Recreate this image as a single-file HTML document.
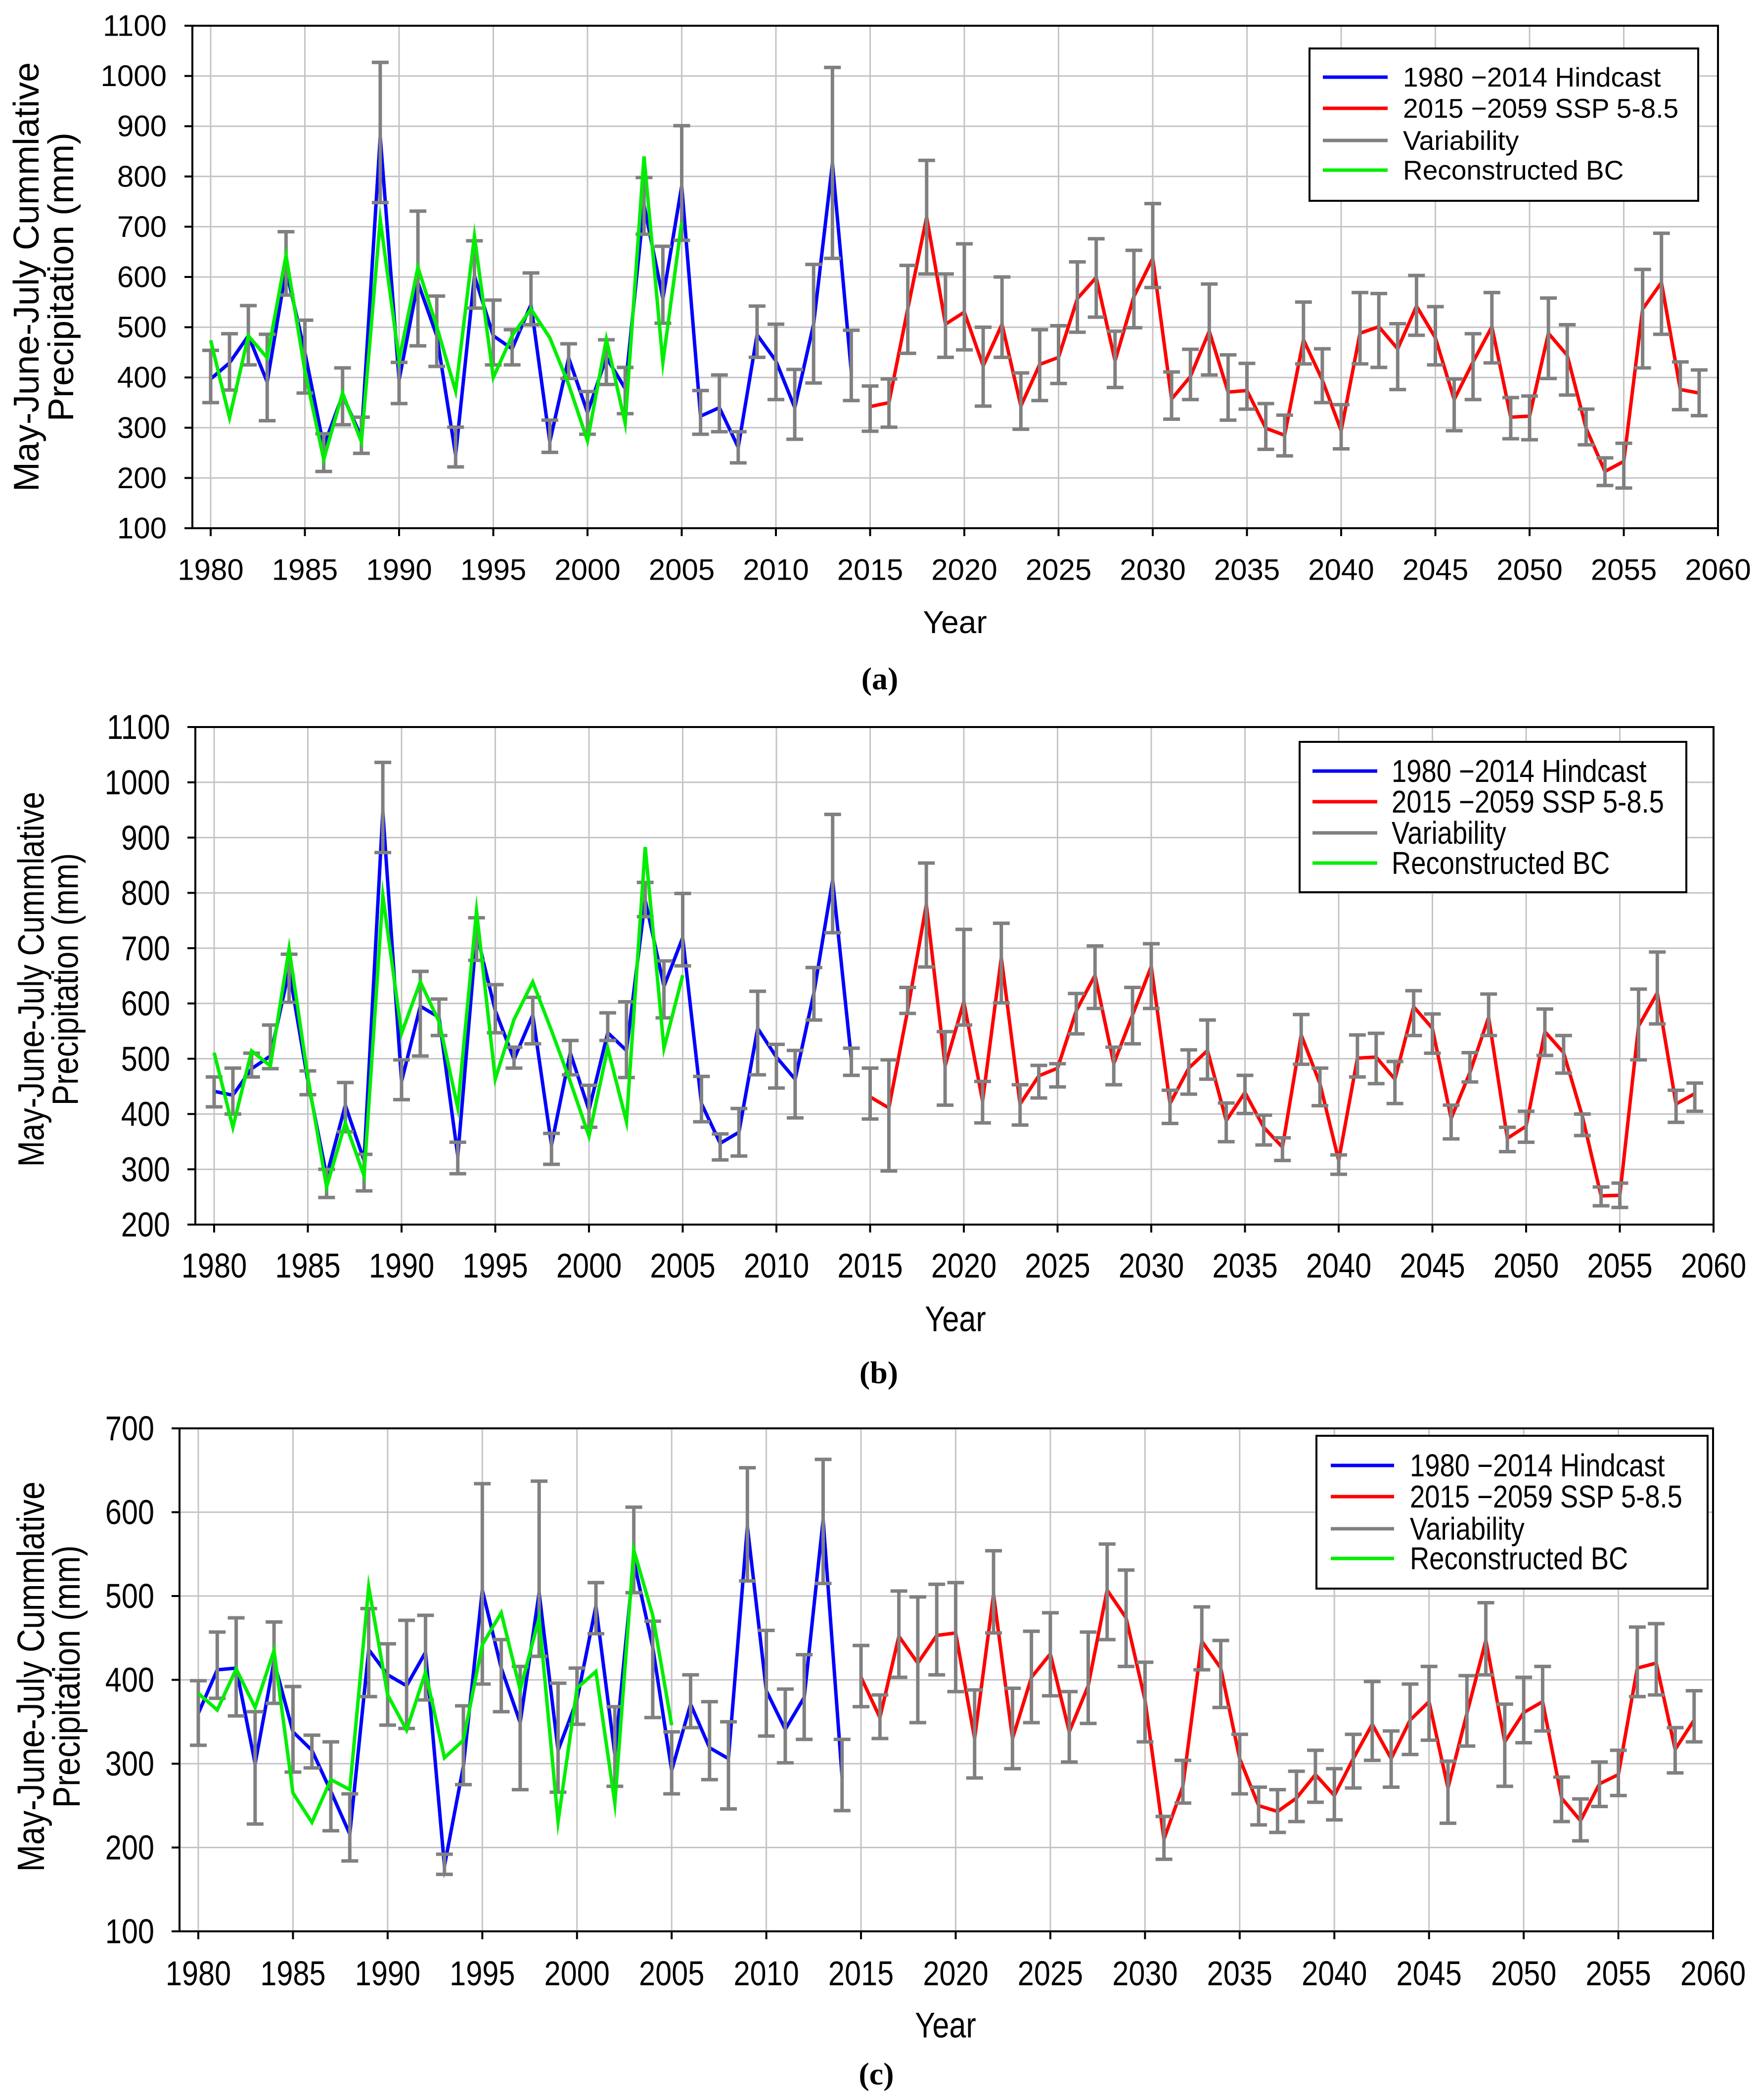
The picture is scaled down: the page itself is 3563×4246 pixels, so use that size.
<!DOCTYPE html>
<html><head><meta charset="utf-8"><style>
html,body{margin:0;padding:0;background:#fff;}
svg{display:block;}
</style></head><body>
<svg id="chart" xmlns="http://www.w3.org/2000/svg" width="3563" height="4246" viewBox="0 0 3563 4246">
<rect x="0" y="0" width="3563" height="4246" fill="#fff"/>
</svg>
<script>
// ---------- Panel (a) data ----------
const aHind = [397,429,483,391,615,450,263,365,281,879,395,589,483,246,602,483,457,545,272,439,330,440,378,743,557,781,323,340,261,485,433,340,506,826,412];
const aBC = [474,320,483,439,643,413,237,369,272,714,435,619,501,373,681,400,483,536,479,386,274,476,309,840,430,709];
const aSSP = [342,350,537,719,506,530,423,506,343,426,440,557,599,433,561,637,357,402,492,371,374,299,285,475,395,294,488,501,457,542,479,356,431,501,321,323,488,444,299,213,233,536,589,376,369];
const aErrHi = [454,487,543,486,690,514,288,419,321,1027,430,731,562,301,672,554,495,608,315,467,372,475,420,798,661,901,374,405,292,542,506,416,625,1017,494,
383,397,623,832,606,666,500,600,409,495,503,630,676,492,653,746,411,456,586,445,428,348,325,550,457,346,569,567,507,603,541,397,487,569,360,363,558,505,337,240,269,615,687,431,415];
const aErrLo = [350,375,425,314,564,369,213,306,249,748,348,463,422,222,538,425,425,505,251,398,287,386,328,685,508,673,287,292,230,440,356,277,389,637,354,
293,301,448,606,440,455,343,440,297,354,388,490,520,380,499,579,317,356,405,315,337,257,244,427,350,258,427,420,376,484,425,294,356,429,278,276,398,365,266,185,180,419,486,336,324];

// ---------- Panel (b) data ----------
const bHind = [441,434,482,505,660,460,288,416,316,947,459,595,575,324,727,587,499,579,344,511,407,547,515,787,631,719,419,347,367,555,503,463,619,823,499];
const bBC = [511,376,514,487,699,467,268,384,288,795,546,639,567,411,767,463,571,639,551,459,360,519,386,883,519,651];
const bSSP = [431,411,587,779,487,603,423,683,418,469,483,587,651,491,579,667,419,483,515,388,439,376,340,543,455,316,501,503,463,594,555,392,475,575,356,378,549,511,396,252,253,559,619,418,437];
const bErrHi = [467,483,510,561,689,478,300,457,327,1036,498,658,608,349,755,634,521,611,365,533,452,583,603,819,677,799,468,364,410,622,526,515,665,942,519,
483,498,629,854,549,734,459,745,453,488,491,618,704,521,629,708,443,516,570,420,470,398,357,580,483,326,543,546,495,623,581,416,511,617,376,405,590,542,400,268,275,626,693,443,456];
const bErrLo = [413,400,467,482,602,435,249,368,261,873,426,505,542,292,678,547,483,527,309,471,376,533,466,757,574,668,386,317,324,471,447,393,570,728,470,
391,297,582,666,416,561,384,601,380,429,449,545,591,453,527,591,383,436,463,350,401,344,316,490,415,291,467,455,419,542,510,355,458,542,332,349,506,474,361,234,231,498,563,385,405];

// ---------- Panel (c) data ----------
const cHind = [360,412,414,300,422,338,316,267,216,436,406,393,433,178,297,507,414,349,504,316,376,488,311,542,439,292,371,319,306,583,387,341,379,591,284];
const cBC = [384,364,413,367,435,265,230,281,269,511,382,340,409,307,328,442,480,388,474,231,390,410,253,555,477,346];
const cSSP = [403,355,452,420,453,456,330,502,330,403,431,338,393,507,474,376,210,273,446,414,306,250,243,259,287,262,306,347,306,352,374,271,360,447,326,361,374,259,232,276,287,414,420,317,352];
const cErrHi = [399,457,474,362,469,392,334,326,264,485,443,471,477,192,369,634,448,416,637,396,414,516,368,606,470,338,406,374,350,653,459,389,430,663,329,
441,382,506,499,514,516,388,554,390,458,480,386,457,562,531,421,237,304,487,447,335,272,269,291,316,294,335,398,339,395,416,303,405,492,371,403,416,284,258,302,316,463,467,343,387];
const cErrLo = [322,378,357,228,372,290,295,220,184,380,346,342,376,168,275,395,362,269,428,266,347,455,273,504,355,264,343,281,246,518,333,301,329,515,244,
368,330,403,349,406,386,283,456,294,349,381,302,348,448,416,326,186,253,412,367,264,227,218,231,254,233,271,304,272,311,328,229,321,406,273,325,339,231,208,249,262,380,382,289,326];

const SVGNS = "http://www.w3.org/2000/svg";
const svg = document.getElementById('chart');
function mk(tag, attrs, parent){
  const e = document.createElementNS(SVGNS, tag);
  for (const k in attrs) e.setAttribute(k, attrs[k]);
  (parent||svg).appendChild(e);
  return e;
}

function drawPanel(cfg, hind, bc, ssp, errHi, errLo){
  const g = mk('g', {});
  
  
  const X = yr => cfg.x1980 + (yr - 1980) * (cfg.x2060 - cfg.x1980) / 80;
  const Y = v => cfg.bottom - (v - cfg.ymin) * (cfg.bottom - cfg.top) / (cfg.ymax - cfg.ymin);
  const font = '"Liberation Sans", Arial, sans-serif';
  const sx = cfg.sx;
  function txt(parent, x, y, str, size, anchor, rot){
    const tr = rot ? `translate(${x},${y}) rotate(-90) scale(${sx},1)` : `translate(${x},${y}) scale(${sx},1)`;
    const t = mk('text', {transform:tr, x:0, y:0, 'text-anchor':anchor, 'dominant-baseline':'central', 'font-family':font, 'font-size':size}, parent);
    t.textContent = str;
    return t;
  }

  for (let v = cfg.ymin + cfg.ystep; v < cfg.ymax; v += cfg.ystep){
    const l = mk('line', {x1:cfg.left, x2:cfg.right, y1:Y(v), y2:Y(v), stroke:'#c4c4c4', 'stroke-width':3}, g);
    
    
  }
  for (let yr = 1980; yr < 2060; yr += 5){
    const l = mk('line', {x1:X(yr), x2:X(yr), y1:cfg.top, y2:cfg.bottom, stroke:'#c4c4c4', 'stroke-width':3}, g);
    
    
  }
  const fr = mk('rect', {x:cfg.left, y:cfg.top, width:cfg.right-cfg.left, height:cfg.bottom-cfg.top, fill:'none', stroke:'#000', 'stroke-width':4}, g);
  
  
  for (let v = cfg.ymin; v <= cfg.ymax; v += cfg.ystep){
    mk('line', {x1:cfg.left-16, x2:cfg.left, y1:Y(v), y2:Y(v), stroke:'#000', 'stroke-width':4}, g);
    const t = txt(g, cfg.ylabX, Y(v), v, cfg.fs, 'end', false);
    
    
  }
  for (let yr = 1980; yr <= 2060; yr += 5){
    mk('line', {x1:X(yr), x2:X(yr), y1:cfg.bottom, y2:cfg.bottom+16, stroke:'#000', 'stroke-width':4}, g);
    const t = txt(g, X(yr), cfg.xlabY, yr, cfg.fs, 'middle', false);
    
    
  }
  const yt = txt(g, cfg.ytX1, cfg.ytY, 'May-June-July Cummlative', cfg.ytfs, 'middle', true);
  
  
  const yt2 = txt(g, cfg.ytX2, cfg.ytY, 'Precipitation (mm)', cfg.ytfs, 'middle', true);
  
  
  const xt = txt(g, cfg.xtX, cfg.xtY, 'Year', cfg.tfs, 'middle', false);
  
  
  const pl = mk('text', {x:cfg.plX, y:cfg.plY, 'text-anchor':'middle', 'dominant-baseline':'central', 'font-family':'"Liberation Serif", serif', 'font-size':64, 'font-weight':'bold'}, g);
  pl.textContent = '(' + cfg.id + ')';
  
  

  function line(vals, startYr, color, name){
    const pts = vals.map((v,i) => X(startYr+i).toFixed(1) + ',' + Y(v).toFixed(1)).join(' ');
    const p = mk('polyline', {points:pts, fill:'none', stroke:color, 'stroke-width':7, 'stroke-linejoin':'miter', 'stroke-miterlimit':10}, g);
    
    
  }
  line(hind, 1980, '#0000ff', 'hindcast-line');
  line(ssp, 2015, '#ff0000', 'ssp585-line');
  for (let i = 0; i < errHi.length; i++){
    const x = X(1980+i), y1 = Y(errHi[i]), y2 = Y(errLo[i]);
    const eb = mk('g', {stroke:'#808080', 'stroke-width':7}, g);
    
    
    mk('line', {x1:x, x2:x, y1:y1, y2:y2}, eb);
    mk('line', {x1:x-17, x2:x+17, y1:y1, y2:y1}, eb);
    mk('line', {x1:x-17, x2:x+17, y1:y2, y2:y2}, eb);
  }
  line(bc, 1980, '#00ee00', 'reconstructed-bc-line');

  const L = cfg.leg;
  const lg = mk('g', {}, g);
  
  
  mk('rect', {x:L.x1, y:L.y1, width:L.x2-L.x1, height:L.y2-L.y1, fill:'#fff', stroke:'#000', 'stroke-width':4}, lg);
  const items = [['1980 \u22122014 Hindcast','#0000ff'],['2015 \u22122059 SSP 5-8.5','#ff0000'],['Variability','#808080'],['Reconstructed BC','#00ee00']];
  items.forEach((it, k) => {
    const yy = L.rows[k];
    const e = mk('g', {}, lg);
    
    
    mk('line', {x1:L.lx1, x2:L.lx2, y1:yy, y2:yy, stroke:it[1], 'stroke-width':7}, e);
    txt(e, L.tx, yy, it[0], L.fs, 'start', false);
  });
}

drawPanel({id:'a', sx:1, left:389, right:3474, top:52, bottom:1068, x1980:426, x2060:3474, ymin:100, ymax:1100, ystep:100,
  fs:60, tfs:64, ytfs:72, ylabX:337, xlabY:1152, ytX1:54, ytX2:124, ytY:560, xtX:1931, xtY:1258, plX:1779, plY:1372,
  leg:{x1:2648, x2:3434, y1:98, y2:406, rows:[156,219,284,344], lx1:2675, lx2:2806, tx:2837, fs:55}},
  aHind, aBC, aSSP, aErrHi, aErrLo);

drawPanel({id:'b', sx:0.85, left:395, right:3465, top:1470, bottom:2476, x1980:433, x2060:3465, ymin:200, ymax:1100, ystep:100,
  fs:70, tfs:72, ytfs:74, ylabX:344, xlabY:2559, ytX1:63, ytX2:132, ytY:1980, xtX:1932, xtY:2668, plX:1777, plY:2775,
  leg:{x1:2628, x2:3410, y1:1500, y2:1804, rows:[1559,1621,1684,1745], lx1:2654, lx2:2785, tx:2814, fs:64}},
  bHind, bBC, bSSP, bErrHi, bErrLo);

drawPanel({id:'c', sx:0.85, left:363, right:3464, top:2888, bottom:3905, x1980:401, x2060:3464, ymin:100, ymax:700, ystep:100,
  fs:70, tfs:72, ytfs:77, ylabX:312, xlabY:3990, ytX1:63, ytX2:135, ytY:3390, xtX:1912, xtY:4096, plX:1772, plY:4193,
  leg:{x1:2662, x2:3453, y1:2903, y2:3212, rows:[2963,3026,3091,3151], lx1:2691, lx2:2819, tx:2851, fs:64}},
  cHind, cBC, cSSP, cErrHi, cErrLo);
</script>
</body></html>
